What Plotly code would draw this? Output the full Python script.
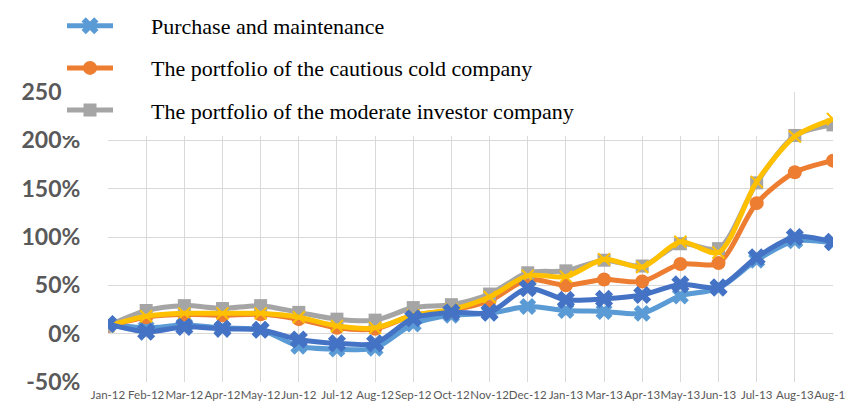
import plotly.graph_objects as go

months = ["Jan-12", "Feb-12", "Mar-12", "Apr-12", "May-12", "Jun-12", "Jul-12", "Aug-12",
          "Sep-12", "Oct-12", "Nov-12", "Dec-12", "Jan-13", "Mar-13", "Apr-13", "May-13",
          "Jun-13", "Jul-13", "Aug-13", "Aug-13"]

purchase_maintenance = [10, 6, 9, 6, 4, -13, -16, -15, 10, 19, 21, 28, 24, 23, 21, 39, 47, 76, 96, 94]
cautious_company = [8, 17, 20, 19, 20, 15, 6, 5, 19, 24, 34, 56, 50, 56, 54, 72, 73, 135, 167, 179]
moderate_company = [8, 24, 29, 26, 29, 22, 15, 14, 27, 30, 41, 63, 65, 76, 70, 93, 88, 156, 205, 216]
series_four = [8, 18, 21, 21, 21, 17, 8, 6, 19, 25, 38, 60, 59, 77, 69, 95, 84, 157, 204, 222]
series_five = [10, 2, 7, 5, 4, -6, -10, -10, 16, 22, 22, 47, 35, 36, 40, 51, 48, 79, 100, 95]

y_ticks = [-50, 0, 50, 100, 150, 200, 250]
y_tick_labels = ["-50%", "0%", "50%", "100%", "150%", "200%", "250%"]

x = list(range(len(months)))

# figure size (page has an 8px body margin, keep it free of scrollbars) and plot area in figure pixels
W, H = 846, 394
L, R, T, B = 100, 825, 84, 374
PW, PH = R - L, B - T

fig = go.Figure()

PAD = "\u00a0" * 6

def add(name, vals, color, symbol, size, show, group, mline=0):
    fig.add_trace(go.Scatter(
        x=x, y=vals, name=(PAD + name) if show else name, mode="lines+markers",
        line=dict(color=color, width=5, shape="spline", smoothing=0.8),
        marker=dict(color=color, symbol=symbol, size=size,
                    line=dict(color=color, width=mline)),
        showlegend=show, legendgroup=group,
    ))

add("Purchase and maintenance", purchase_maintenance, "#5B9BD5", "x", 15, True, "a")
add("The portfolio of the cautious cold company", cautious_company, "#ED7D31", "circle", 14, True, "b")
add("The portfolio of the moderate investor company", moderate_company, "#A5A5A5", "square", 13, True, "c")
add("Series 4", series_four, "#FFC000", "x-thin", 12, False, "d", mline=2)
add("Series 5", series_five, "#4472C4", "x", 16, False, "e")

fig.update_layout(
    width=W, height=H,
    margin=dict(l=L, r=W - R, t=T, b=H - B, autoexpand=False),
    paper_bgcolor="white", plot_bgcolor="white",
    showlegend=True,
    legend=dict(
        x=(54 - L) / PW, y=(B + 3) / PH, xref="paper", yref="paper",
        xanchor="left", yanchor="top",
        bgcolor="rgba(0,0,0,0)",
        font=dict(family="Liberation Serif", size=22, color="black"),
        tracegroupgap=10.5, itemwidth=46,
    ),
    shapes=[dict(type="rect", xref="paper", yref="paper", layer="above",
                 x0=(54 - L) / PW, x1=(772 - L) / PW,
                 y0=(B - 128) / PH, y1=(B + 10) / PH,
                 fillcolor="white", line=dict(width=0))],
)

fig.update_xaxes(
    range=[0, len(months) - 1],
    tickvals=x, ticktext=months, tickangle=0,
    showgrid=True, gridcolor="#D9D9D9", gridwidth=1,
    showline=False, zeroline=False,
    tickfont=dict(family="Lato", size=11.5, color="#595959"),
    ticks="outside", ticklen=2, tickcolor="rgba(0,0,0,0)",
    ticklabeloverflow="allow",
)
fig.update_yaxes(
    range=[-50, 250], tickvals=y_ticks, ticktext=y_tick_labels,
    showgrid=True, gridcolor="#D9D9D9", gridwidth=1,
    zeroline=False, showline=False,
    tickfont=dict(family="Lato", size=23, color="#595959", weight="bold"),
    ticks="outside", ticklen=22, tickcolor="rgba(0,0,0,0)",
)

fig.write_html("out.html")
